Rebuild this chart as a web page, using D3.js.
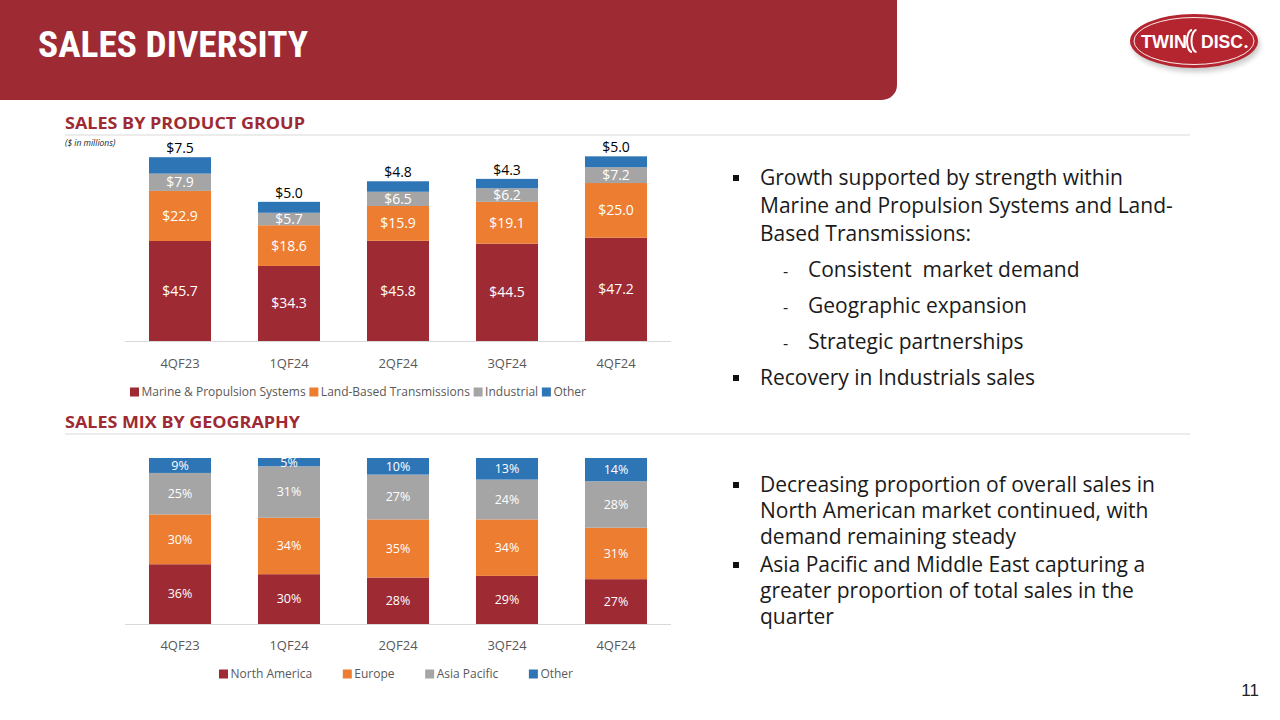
<!DOCTYPE html>
<html>
<head>
<meta charset="utf-8">
<script src="https://cdn.jsdelivr.net/npm/d3@7"></script>
<style>
  html, body { margin: 0; padding: 0; background: #fff; }
  svg { display: block; }
</style>
</head>
<body>
<svg id="chart" width="1280" height="720"></svg>
<script>
// ---------- DATA ----------
const categories = ["4QF23", "1QF24", "2QF24", "3QF24", "4QF24"];
// Sales by product group ($ in millions)
const marinePropulsion = [45.7, 34.3, 45.8, 44.5, 47.2];
const landBased = [22.9, 18.6, 15.9, 19.1, 25.0];
const industrial = [7.9, 5.7, 6.5, 6.2, 7.2];
const otherProduct = [7.5, 5.0, 4.8, 4.3, 5.0];
const productSeriesNames = ["Marine & Propulsion Systems", "Land-Based Transmissions", "Industrial", "Other"];
// Sales mix by geography (%)
const northAmerica = [36, 30, 28, 29, 27];
const europe = [30, 34, 35, 34, 31];
const asiaPacific = [25, 31, 27, 24, 28];
const otherGeo = [9, 5, 10, 13, 14];
const geoSeriesNames = ["North America", "Europe", "Asia Pacific", "Other"];

const bullets1 = [
  { level: 0, lines: ["Growth supported by strength within", "Marine and Propulsion Systems and Land-", "Based Transmissions:"] },
  { level: 1, lines: ["Consistent  market demand"] },
  { level: 1, lines: ["Geographic expansion"] },
  { level: 1, lines: ["Strategic partnerships"] },
  { level: 0, lines: ["Recovery in Industrials sales"] }
];
const bullets2 = [
  { level: 0, lines: ["Decreasing proportion of overall sales in", "North American market continued, with", "demand remaining steady"] },
  { level: 0, lines: ["Asia Pacific and Middle East capturing a", "greater proportion of total sales in the", "quarter"] }
];

// ---------- STYLE ----------
const RED = "#9e2a34", ORANGE = "#ed7d31", GRAY = "#a5a5a5", BLUE = "#2e75b6";
const seriesColors = [RED, ORANGE, GRAY, BLUE];
const chartFont = "'Open Sans', 'Noto Sans', sans-serif";
const bodyFont = "'Open Sans', 'Noto Sans', sans-serif";

const svg = d3.select("#chart");

// ---------- HEADER ----------
svg.append("path")
  .attr("d", "M0,0 H897 V85 A15,15 0 0 1 882,100 H0 Z")
  .attr("fill", RED);
svg.append("text")
  .attr("x", 38).attr("y", 57)
  .attr("font-family", "'Liberation Sans Narrow', 'Roboto Condensed', 'Liberation Sans', sans-serif")
  .attr("font-weight", "bold").attr("font-size", 37)
  .attr("fill", "#fff")
  .attr("textLength", 270).attr("lengthAdjust", "spacingAndGlyphs")
  .text("SALES DIVERSITY");

// Logo
const logo = svg.append("g").attr("transform", "translate(1194,41)");
const defs = svg.append("defs");
const flt = defs.append("filter").attr("id", "sh").attr("x", "-20%").attr("y", "-30%").attr("width", "140%").attr("height", "170%");
flt.append("feGaussianBlur").attr("stdDeviation", 2.5);
logo.append("ellipse").attr("cx", 2).attr("cy", 4).attr("rx", 64).attr("ry", 27).attr("fill", "#999").attr("opacity", 0.5).attr("filter", "url(#sh)");
logo.append("ellipse").attr("rx", 64).attr("ry", 27).attr("fill", "#b52530");
logo.append("ellipse").attr("rx", 60).attr("ry", 23.5).attr("fill", "none").attr("stroke", "#fff").attr("stroke-width", 0.9);
logo.append("text").attr("x", -7).attr("y", 7).attr("text-anchor", "end")
  .attr("font-family", "'Liberation Sans', Arial, sans-serif").attr("font-weight", "bold")
  .attr("font-size", 18).attr("fill", "#fff").attr("textLength", 46).attr("lengthAdjust", "spacingAndGlyphs").text("TWIN");
[0, 4.5].forEach(dx => {
  logo.append("path")
    .attr("d", `M${-2 + dx},-11 A5,11 0 0 0 ${-2 + dx},11`)
    .attr("fill", "none").attr("stroke", "#fff").attr("stroke-width", 2);
});
logo.append("text").attr("x", 7).attr("y", 7).attr("text-anchor", "start")
  .attr("font-family", "'Liberation Sans', Arial, sans-serif").attr("font-weight", "bold")
  .attr("font-size", 18).attr("fill", "#fff").attr("textLength", 42).attr("lengthAdjust", "spacingAndGlyphs").text("DISC");
logo.append("circle").attr("cx", 52).attr("cy", 5.5).attr("r", 1.6).attr("fill", "#fff");

// ---------- SECTION HEADINGS ----------
function heading(text, y, w) {
  svg.append("text").attr("x", 65).attr("y", y)
    .attr("font-family", "'Open Sans', sans-serif").attr("font-weight", "bold")
    .attr("font-size", 16).attr("fill", RED)
    .attr("textLength", w).attr("lengthAdjust", "spacingAndGlyphs")
    .text(text);
  svg.append("line").attr("x1", 65).attr("x2", 1190).attr("y1", y + 6).attr("y2", y + 6)
    .attr("stroke", "#d9d9d9").attr("stroke-width", 1);
}
heading("SALES BY PRODUCT GROUP", 129, 240);
heading("SALES MIX BY GEOGRAPHY", 428, 235);
svg.append("text").attr("x", 65).attr("y", 146)
  .attr("font-family", bodyFont).attr("font-style", "italic")
  .attr("font-size", 8.5).attr("fill", "#222").text("($ in millions)");

// ---------- CHART HELPER ----------
const x = d3.scaleBand().domain(categories).range([125.5, 670.5]).paddingInner(0.431).paddingOuter(0.2155);

function stackedChart(opts) {
  const { seriesArrays, names, y, baseY, labelFmt, labelSize, lastAbove, catY, legendY, legendX0, legendX1 } = opts;
  const rows = categories.map((c, i) => {
    const o = { cat: c };
    names.forEach((n, k) => o[n] = seriesArrays[k][i]);
    return o;
  });
  const stack = d3.stack().keys(names)(rows);
  const g = svg.append("g");
  stack.forEach((layer, k) => {
    g.selectAll(null).data(layer).join("rect")
      .attr("x", d => x(d.data.cat))
      .attr("width", x.bandwidth())
      .attr("y", d => y(d[1]))
      .attr("height", d => y(d[0]) - y(d[1]))
      .attr("fill", seriesColors[k]);
    const isLast = k === names.length - 1;
    g.selectAll(null).data(layer).join("text")
      .attr("x", d => x(d.data.cat) + x.bandwidth() / 2)
      .attr("y", d => (isLast && lastAbove) ? y(d[1]) - 4 : (y(d[0]) + y(d[1])) / 2)
      .attr("dy", (isLast && lastAbove) ? 0 : "0.35em")
      .attr("text-anchor", "middle")
      .attr("font-family", chartFont)
      .attr("font-size", labelSize)
      .attr("fill", (isLast && lastAbove) ? "#000" : "#fff")
      .text(d => labelFmt(d[1] - d[0]));
  });
  // axis
  const axis = d3.axisBottom(x).tickSize(0).tickPadding(14);
  const ax = g.append("g").attr("transform", `translate(0,${baseY})`).call(axis);
  ax.select(".domain").attr("stroke", "#d9d9d9").attr("d", "M125,0.5H671");
  ax.selectAll("text").attr("font-family", chartFont).attr("font-size", 13).attr("fill", "#595959")
    .attr("y", catY - baseY).attr("dy", "0.35em");
  // legend (spread to the reference width)
  const lg = g.append("g").attr("transform", `translate(${legendX0},${legendY})`);
  const items = names.map((n, k) => {
    const it = lg.append("g");
    it.append("rect").attr("x", 0).attr("y", -4.5).attr("width", 9).attr("height", 9).attr("fill", seriesColors[k]);
    const t = it.append("text").attr("x", 11.5).attr("y", 0).attr("dy", "0.35em")
      .attr("font-family", chartFont).attr("font-size", 12).attr("fill", "#595959").text(n);
    return { it, w: 11.5 + t.node().getComputedTextLength() };
  });
  const total = d3.sum(items, d => d.w);
  const gap = Math.max(3, (legendX1 - legendX0 - total) / (items.length - 1));
  let cx = 0;
  items.forEach(d => { d.it.attr("transform", `translate(${cx},0)`); cx += d.w + gap; });
}

// Top chart
const yTop = d3.scaleLinear().domain([0, 100]).range([341, 122.2]);
stackedChart({
  seriesArrays: [marinePropulsion, landBased, industrial, otherProduct],
  names: productSeriesNames, y: yTop, baseY: 341,
  labelFmt: v => "$" + d3.format(".1f")(v), labelSize: 14, lastAbove: true,
  catY: 363, legendY: 392, legendX0: 130, legendX1: 586
});

// Bottom chart
const yBot = d3.scaleLinear().domain([0, 100]).range([624, 458]);
stackedChart({
  seriesArrays: [northAmerica, europe, asiaPacific, otherGeo],
  names: geoSeriesNames, y: yBot, baseY: 624,
  labelFmt: v => Math.round(v) + "%", labelSize: 12.5, lastAbove: false,
  catY: 645, legendY: 674, legendX0: 219, legendX1: 573
});

// ---------- BULLET TEXT ----------
function bulletBlock(items, startY, lineH, paraGap, subGap) {
  let yy = startY;
  items.forEach((it, idx) => {
    if (idx > 0) yy += (it.level === 1 || items[idx - 1].level === 1) ? subGap : paraGap;
    const tx = it.level === 0 ? 760 : 808;
    if (it.level === 0) {
      svg.append("rect").attr("x", 733).attr("y", yy - 10).attr("width", 6).attr("height", 6).attr("fill", "#111");
    } else {
      svg.append("text").attr("x", 783).attr("y", yy).attr("font-family", bodyFont).attr("font-size", 16).attr("fill", "#222").text("-");
    }
    it.lines.forEach((ln, j) => {
      svg.append("text").attr("x", tx).attr("y", yy + j * lineH)
        .attr("font-family", bodyFont).attr("font-size", 21).attr("fill", "#1a1a1a")
        .attr("xml:space", "preserve").style("white-space", "pre").text(ln);
    });
    yy += (it.lines.length - 1) * lineH;
  });
}
bulletBlock(bullets1, 185, 28, 38, 36);
bulletBlock(bullets2, 492, 26, 28, 36);

// page number
svg.append("text").attr("x", 1259).attr("y", 696).attr("text-anchor", "end")
  .attr("font-family", "'Liberation Sans', Arial, sans-serif").attr("font-size", 17).attr("fill", "#222").text("11");
</script>
</body>
</html>
